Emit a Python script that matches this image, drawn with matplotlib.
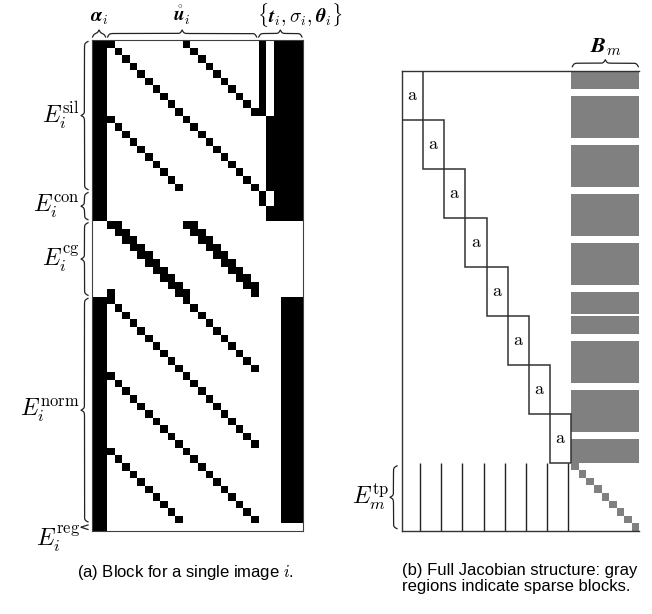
"""Sparsity structure of the Jacobian: one image block (a) and the full system (b)."""
import numpy as np
import matplotlib
matplotlib.use('Agg')
import matplotlib.pyplot as plt
from matplotlib.patches import Rectangle

plt.rcParams.update({
    'mathtext.fontset': 'cm',
    'font.family': 'Liberation Sans',
})

FIG_W, FIG_H = 652, 614

# ---------------------------------------------------------------------------
# (a) block for a single image: rows = residuals, cols = unknowns
# ---------------------------------------------------------------------------
N_ROWS, N_COLS = 65, 28
ALPHA_COLS = (0, 2)
U_STARTS = [2, 12]          # two groups of contour points
N_PTS = 10
T_COL, SIGMA_COL = 22, 23
THETA_COLS = (24, 28)
NORM_THETA_COLS = (25, 28)

SIL_STARTS = [0, 10]
CG_START = 24
NORM_STARTS = [34, 44, 54]

ALPHA_ROWS = [(0, 24), (34, 65)]
T_ROWS = [(0, 10), (20, 22)]
SIGMA_ROWS = [(10, 20), (22, 24)]
THETA_ROWS = [(0, 24)]
NORM_THETA_ROWS = [(34, 64)]

SECTION_LABELS = [r'$E_i^{\mathrm{sil}}$', r'$E_i^{\mathrm{con}}$', r'$E_i^{\mathrm{cg}}$',
                  r'$E_i^{\mathrm{norm}}$', r'$E_i^{\mathrm{reg}}$']
SECTION_EDGES = [0, 20, 24, 34, 64, 65]

TOP_LABELS = [r'$\boldsymbol{\alpha}_i$', r'$\mathring{\boldsymbol{u}}_i$',
              r'$\{\boldsymbol{t}_i,\sigma_i,\boldsymbol{\theta}_i\}$']
TOP_EDGES = [0, 2, 22, 28]

# ---------------------------------------------------------------------------
# (b) full Jacobian: 8 image blocks, shared shape columns, tp rows
# ---------------------------------------------------------------------------
N_IMAGES = 8
SHAPE_COLS = 90
TP_ROWS = 90
TP_STEP = 10
TP_LINE_COL = 24            # column of each image block hit by the tp rows
GAP_ROWS = (24, 34)         # E_cg rows of each block have no shape entries
EXTRA_GAPS = [(323, 325)]

GRAY = '#808080'
EDGE = '#333333'


def build_block():
    m = np.zeros((N_ROWS, N_COLS))
    for r0, r1 in ALPHA_ROWS:
        m[r0:r1, ALPHA_COLS[0]:ALPHA_COLS[1]] = 1
    for r0, r1 in T_ROWS:
        m[r0:r1, T_COL] = 1
    for r0, r1 in SIGMA_ROWS:
        m[r0:r1, SIGMA_COL] = 1
    for r0, r1 in THETA_ROWS:
        m[r0:r1, THETA_COLS[0]:THETA_COLS[1]] = 1
    for r0, r1 in NORM_THETA_ROWS:
        m[r0:r1, NORM_THETA_COLS[0]:NORM_THETA_COLS[1]] = 1
    for s in SIL_STARTS + NORM_STARTS:
        for k in range(N_PTS):
            for g in U_STARTS:
                m[s + k, g + k] = 1
    for k in range(N_PTS):
        for g in U_STARTS:
            m[CG_START + k, g + k] = 1
            m[CG_START + k, g + (k + 1) % N_PTS] = 1
    return m


def to_px(ax, x, y):
    X, Y = ax.transData.transform((x, y))
    return X, FIG_H - Y


def brace_shape(length, beta=1.1):
    s = np.linspace(0, length, 301)
    sm = np.minimum(s, length - s)
    f = 1 / (1 + np.exp(-beta * sm)) + 1 / (1 + np.exp(-beta * (sm - length / 2))) - 0.5
    f = (f - f.min()) / (f.max() - f.min())
    return s, f


def vbrace(ov, x_base, y0, y1, depth=7):
    s, f = brace_shape(y1 - y0)
    ov.plot(x_base - depth * f, y0 + s, color='#222222', lw=0.9)
    return x_base - depth


def hbrace(ov, y_base, x0, x1, depth=7):
    s, f = brace_shape(x1 - x0)
    ov.plot(x0 + s, y_base - depth * f, color='#222222', lw=0.9)
    return y_base - depth


fig = plt.figure(figsize=(FIG_W / 100, FIG_H / 100), dpi=100)

# ---- panel (a) ----
ax_a = fig.add_axes([91.5 / FIG_W, 1 - 531 / FIG_H, 211.5 / FIG_W, 491 / FIG_H])
ax_a.imshow(build_block(), cmap='Greys', vmin=0, vmax=1, interpolation='nearest',
            extent=(0, N_COLS, N_ROWS, 0), aspect='auto')
ax_a.set_xlim(0, N_COLS)
ax_a.set_ylim(N_ROWS, 0)
ax_a.set_xticks([])
ax_a.set_yticks([])
for sp in ax_a.spines.values():
    sp.set_color('#404040')
    sp.set_linewidth(0.8)

# ---- panel (b) ----
bw, bh = N_COLS, N_ROWS
tot_w = N_IMAGES * bw + SHAPE_COLS
tot_h = N_IMAGES * bh + TP_ROWS
ax_b = fig.add_axes([402 / FIG_W, 1 - 530.7 / FIG_H, 237.3 / FIG_W, 460 / FIG_H])
ax_b.set_xlim(0, tot_w)
ax_b.set_ylim(tot_h, 0)
ax_b.set_xticks([])
ax_b.set_yticks([])
ax_b.spines['right'].set_visible(False)
for side in ('top', 'left', 'bottom'):
    ax_b.spines[side].set_color(EDGE)
    ax_b.spines[side].set_linewidth(1.0)

mask = np.ones(N_IMAGES * bh, bool)
for k in range(N_IMAGES):
    mask[k * bh + GAP_ROWS[0]:k * bh + GAP_ROWS[1]] = False
for a, b in EXTRA_GAPS:
    mask[a:b] = False
edges = np.flatnonzero(np.diff(np.concatenate([[0], mask.astype(int), [0]])))
for start, stop in zip(edges[::2], edges[1::2]):
    ax_b.broken_barh([(N_IMAGES * bw, SHAPE_COLS)], (start, stop - start),
                     facecolors=GRAY, edgecolors='none')

for k in range(N_IMAGES):
    ax_b.add_patch(Rectangle((k * bw, k * bh), bw, bh, fill=False, ec=EDGE, lw=1.1))
    ax_b.text(k * bw + bw / 2, k * bh + bh / 2, r'$\mathrm{a}$',
              ha='center', va='center', fontsize=13)

for j in range(TP_ROWS // TP_STEP):
    ax_b.add_patch(Rectangle((N_IMAGES * bw + j * TP_STEP, N_IMAGES * bh + j * TP_STEP),
                             TP_STEP, TP_STEP, fc=GRAY, ec='none'))
ax_b.vlines([k * bw + TP_LINE_COL for k in range(N_IMAGES)], N_IMAGES * bh, tot_h,
            color='#222222', lw=1.0)

# ---- braces and labels ----
ov = fig.add_axes([0, 0, 1, 1], zorder=5)
ov.set_xlim(0, FIG_W)
ov.set_ylim(FIG_H, 0)
ov.axis('off')
ov.patch.set_alpha(0)

for i, label in enumerate(SECTION_LABELS):
    x0, y0 = to_px(ax_a, 0, SECTION_EDGES[i])
    _, y1 = to_px(ax_a, 0, SECTION_EDGES[i + 1])
    tip = vbrace(ov, x0 - 3.5, y0 + 1.5, y1 - 1.5)
    dy = 11 if label.endswith('reg}}$') else 0
    ov.text(tip - 1, (y0 + y1) / 2 + dy, label, ha='right', va='center', fontsize=17)

for i, label in enumerate(TOP_LABELS):
    x0, y0 = to_px(ax_a, TOP_EDGES[i], 0)
    x1, _ = to_px(ax_a, TOP_EDGES[i + 1], 0)
    tip = hbrace(ov, y0 - 3, x0 + 1, x1 - 1)
    if i == len(TOP_LABELS) - 1:
        ov.text(x0 - 1, tip - 8, label, ha='left', va='baseline', fontsize=14)
    else:
        ov.text((x0 + x1) / 2, tip - 8, label, ha='center', va='baseline', fontsize=14)

x0, y0 = to_px(ax_b, N_IMAGES * bw, 0)
x1, _ = to_px(ax_b, tot_w, 0)
tip = hbrace(ov, y0 - 4, x0 + 1, x1 - 1)
ov.text((x0 + x1) / 2, tip - 2, r'$\boldsymbol{B}_m$', ha='center', va='bottom', fontsize=16)

x0, y0 = to_px(ax_b, 0, N_IMAGES * bh)
_, y1 = to_px(ax_b, 0, tot_h)
tip = vbrace(ov, x0 - 5, y0 + 3, y1 - 2)
ov.text(tip - 1, (y0 + y1) / 2, r'$E_m^{\mathrm{tp}}$', ha='right', va='center', fontsize=17)

ov.text(185, 572, r'(a) Block for a single image $i$.', ha='center', va='center', fontsize=12)
ov.text(402, 563, '(b) Full Jacobian structure: gray\nregions indicate sparse blocks.',
        ha='left', va='top', fontsize=12, linespacing=1.08)

fig.savefig('out.png', dpi=100)
